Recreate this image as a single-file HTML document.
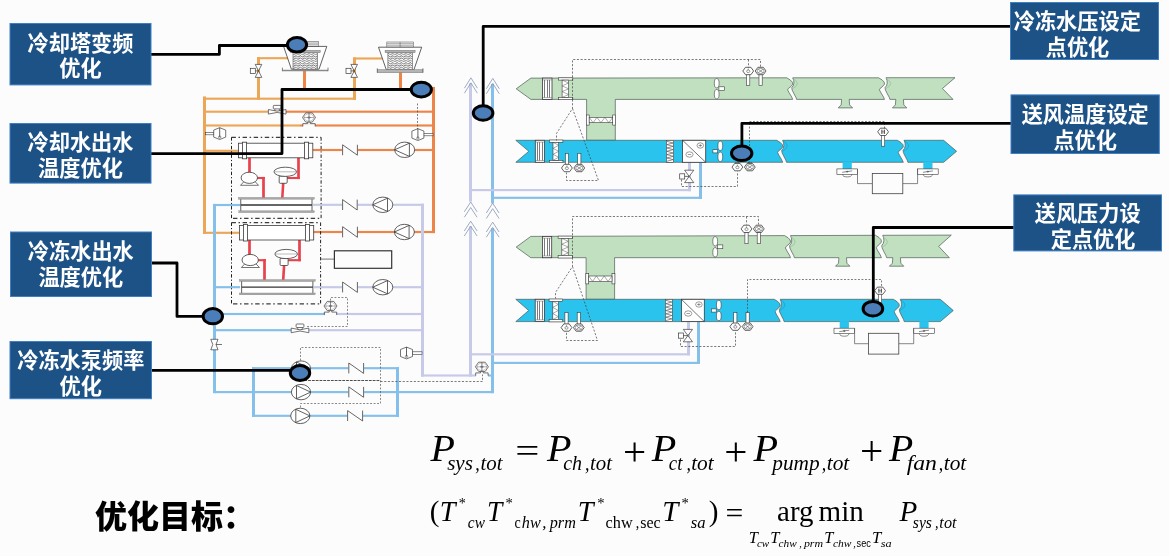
<!DOCTYPE html>
<html lang="zh-CN">
<head>
<meta charset="utf-8">
<title>优化目标</title>
<style>
html,body{margin:0;padding:0;background:#fcfcfc;}
body{width:1169px;height:556px;overflow:hidden;font-family:"Liberation Sans","Noto Sans CJK SC",sans-serif;}
svg{display:block;will-change:transform;}
</style>
</head>
<body>
<svg width="1169" height="556" viewBox="0 0 1169 556" role="img" aria-label="暖通空调系统优化示意图">
<defs>
<pattern id="wave" x="0" y="0" width="4.4" height="2.3" patternUnits="userSpaceOnUse"><rect width="4.4" height="2.3" fill="#fff"/><path d="M0 1.15 Q1.1 -0.2 2.2 1.15 T4.4 1.15" fill="none" stroke="#2a2a2a" stroke-width="0.75"/></pattern>
</defs>
<rect width="1169" height="556" fill="#fcfcfc"/>
<rect x="257.00" y="57.12" width="35.00" height="2.15" fill="#eca657"/>
<rect x="257.00" y="57.12" width="3.00" height="42.65" fill="#eca657"/>
<rect x="353.00" y="57.42" width="29.50" height="2.15" fill="#eca657"/>
<rect x="353.00" y="57.42" width="3.00" height="42.35" fill="#eca657"/>
<rect x="204.70" y="97.62" width="151.30" height="2.15" fill="#eca657"/>
<rect x="203.00" y="96.42" width="3.00" height="137.45" fill="#eca657"/>
<rect x="203.00" y="231.73" width="36.00" height="2.15" fill="#eca657"/>
<rect x="204.70" y="110.62" width="77.30" height="2.15" fill="#eca657"/>
<rect x="282.00" y="110.62" width="151.70" height="2.15" fill="#ee8548"/>
<rect x="204.70" y="124.42" width="95.30" height="2.15" fill="#eca657"/>
<rect x="300.00" y="124.42" width="133.70" height="2.15" fill="#ee8548"/>
<rect x="204.70" y="149.73" width="34.30" height="2.15" fill="#eca657"/>
<rect x="303.00" y="69.92" width="3.00" height="20.35" fill="#ee8548"/>
<rect x="399.00" y="70.92" width="3.00" height="19.35" fill="#ee8548"/>
<rect x="399.00" y="88.12" width="34.70" height="2.15" fill="#ee8548"/>
<rect x="432.00" y="86.92" width="3.00" height="146.15" fill="#ee8548"/>
<rect x="313.00" y="230.93" width="122.00" height="2.15" fill="#ee8548"/>
<rect x="313.00" y="148.93" width="120.70" height="2.15" fill="#ee8548"/>
<rect x="213.00" y="203.93" width="27.00" height="2.15" fill="#84c0ea"/>
<rect x="213.00" y="203.93" width="3.00" height="189.25" fill="#84c0ea"/>
<rect x="214.60" y="286.12" width="25.40" height="2.15" fill="#84c0ea"/>
<rect x="214.60" y="312.93" width="110.40" height="2.15" fill="#84c0ea"/>
<rect x="214.60" y="329.12" width="77.40" height="2.15" fill="#84c0ea"/>
<rect x="214.60" y="391.03" width="278.40" height="2.15" fill="#84c0ea"/>
<rect x="252.00" y="367.12" width="49.00" height="2.15" fill="#84c0ea"/>
<rect x="252.00" y="367.12" width="3.00" height="49.75" fill="#84c0ea"/>
<rect x="252.00" y="414.73" width="147.00" height="2.15" fill="#84c0ea"/>
<rect x="396.00" y="367.12" width="3.00" height="49.75" fill="#84c0ea"/>
<rect x="301.00" y="367.12" width="98.00" height="2.15" fill="#84c0ea"/>
<rect x="313.00" y="203.73" width="111.00" height="2.15" fill="#c6c9e8"/>
<rect x="421.00" y="203.73" width="3.00" height="172.85" fill="#c6c9e8"/>
<rect x="421.00" y="374.43" width="55.00" height="2.15" fill="#c6c9e8"/>
<rect x="314.00" y="286.12" width="108.90" height="2.15" fill="#c6c9e8"/>
<rect x="336.00" y="312.93" width="86.90" height="2.15" fill="#c6c9e8"/>
<rect x="308.00" y="329.12" width="114.90" height="2.15" fill="#c6c9e8"/>
<rect x="469.00" y="226.33" width="3.00" height="150.25" fill="#c6c9e8"/>
<rect x="469.00" y="83.33" width="3.00" height="118.35" fill="#c6c9e8"/>
<rect x="491.00" y="228.33" width="3.00" height="164.85" fill="#84c0ea"/>
<rect x="491.00" y="83.92" width="3.00" height="119.55" fill="#84c0ea"/>
<rect x="488.00" y="374.43" width="5.00" height="2.15" fill="#84c0ea"/>
<rect x="471.10" y="189.03" width="219.90" height="2.15" fill="#c6c9e8"/>
<rect x="688.00" y="160.93" width="3.00" height="30.25" fill="#c6c9e8"/>
<rect x="493.00" y="196.73" width="209.00" height="2.15" fill="#84c0ea"/>
<rect x="699.00" y="160.93" width="3.00" height="37.95" fill="#84c0ea"/>
<rect x="471.10" y="353.23" width="218.90" height="2.15" fill="#c6c9e8"/>
<rect x="687.00" y="319.93" width="3.00" height="35.45" fill="#c6c9e8"/>
<rect x="493.00" y="361.82" width="207.00" height="2.15" fill="#84c0ea"/>
<rect x="697.00" y="319.93" width="3.00" height="44.05" fill="#84c0ea"/>
<path d="M464.4 88.2 L470.9 77.8 L477.4 88.2" fill="none" stroke="#8697b4" stroke-width="0.8" />
<path d="M464.4 93.2 L470.9 82.8 L477.4 93.2" fill="none" stroke="#8697b4" stroke-width="0.8" />
<path d="M486.3 88.8 L492.8 78.4 L499.3 88.8" fill="none" stroke="#8697b4" stroke-width="0.8" />
<path d="M486.3 93.8 L492.8 83.4 L499.3 93.8" fill="none" stroke="#8697b4" stroke-width="0.8" />
<path d="M464.3 211.8 L470.7 202.0 L477.1 211.8" fill="none" stroke="#8697b4" stroke-width="0.8" />
<path d="M464.3 217.3 L470.7 207.5 L477.1 217.3" fill="none" stroke="#8697b4" stroke-width="0.8" />
<path d="M464.3 231.0 L470.7 221.2 L477.1 231.0" fill="none" stroke="#8697b4" stroke-width="0.8" />
<path d="M464.3 236.0 L470.7 226.2 L477.1 236.0" fill="none" stroke="#8697b4" stroke-width="0.8" />
<path d="M486.3 213.0 L492.7 203.2 L499.1 213.0" fill="none" stroke="#8697b4" stroke-width="0.8" />
<path d="M486.3 218.5 L492.7 208.7 L499.1 218.5" fill="none" stroke="#8697b4" stroke-width="0.8" />
<path d="M486.3 232.0 L492.7 222.2 L499.1 232.0" fill="none" stroke="#8697b4" stroke-width="0.8" />
<path d="M486.3 237.2 L492.7 227.4 L499.1 237.2" fill="none" stroke="#8697b4" stroke-width="0.8" />
<path d="M231.5 137.3 L321.1 137.3" fill="none" stroke="#3c3c3c" stroke-width="1.2" stroke-dasharray="4.4 2.6 1.5 2.6"/>
<path d="M233.0 218.4 L321.1 218.4" fill="none" stroke="#3c3c3c" stroke-width="1.2" stroke-dasharray="4.4 2.6 1.5 2.6"/>
<path d="M231.5 137.3 L231.5 218.4" fill="none" stroke="#222" stroke-width="1.0" stroke-dasharray="3.4 2 1.2 2"/>
<path d="M321.1 137.3 L321.1 218.4" fill="none" stroke="#222" stroke-width="1.0" stroke-dasharray="3.4 2 1.2 2"/>
<path d="M231.5 222.6 L320.6 222.6" fill="none" stroke="#3c3c3c" stroke-width="1.2" stroke-dasharray="4.4 2.6 1.5 2.6"/>
<path d="M233.0 303.8 L320.6 303.8" fill="none" stroke="#3c3c3c" stroke-width="1.2" stroke-dasharray="4.4 2.6 1.5 2.6"/>
<path d="M231.5 222.6 L231.5 303.8" fill="none" stroke="#222" stroke-width="1.0" stroke-dasharray="3.4 2 1.2 2"/>
<path d="M320.6 222.6 L320.6 303.8" fill="none" stroke="#222" stroke-width="1.0" stroke-dasharray="3.4 2 1.2 2"/>
<rect x="248.15" y="156.95" width="2.70" height="17.10" fill="#e8424c"/>
<rect x="257.00" y="176.95" width="7.85" height="2.10" fill="#e8424c"/>
<rect x="262.15" y="176.95" width="2.70" height="21.10" fill="#e8424c"/>
<rect x="297.15" y="156.95" width="2.70" height="22.10" fill="#e8424c"/>
<rect x="287.00" y="176.95" width="12.85" height="2.10" fill="#e8424c"/>
<path d="M283.2 183.0 L282.3 198.0" fill="none" stroke="#e8424c" stroke-width="2.6" />
<rect x="238.5" y="143.2" width="74.3" height="14.6" fill="#fff" stroke="#3a3a3a" stroke-width="0.8" />
<rect x="242.5" y="142.2" width="4.1" height="16.6" fill="#fff" stroke="#3a3a3a" stroke-width="0.8" />
<rect x="304.5" y="142.2" width="4.1" height="16.6" fill="#fff" stroke="#3a3a3a" stroke-width="0.8" />
<polygon points="240.5,185.3 244.5,181.0 254.5,181.0 258.5,185.3" fill="#fff" stroke="#3a3a3a" stroke-width="0.7" />
<ellipse cx="249.3" cy="177.8" rx="8.2" ry="5.6" fill="#fff" stroke="#3a3a3a" stroke-width="0.8"/>
<rect x="279.2" y="176.0" width="8.0" height="7.3" fill="#fff" stroke="#3a3a3a" stroke-width="0.8" rx="1"/>
<ellipse cx="285.3" cy="171.8" rx="11.3" ry="4.6" fill="#fff" stroke="#3a3a3a" stroke-width="0.8"/>
<path d="M274.5 171.8 L296.0 171.8" fill="none" stroke="#777" stroke-width="0.5" />
<rect x="240.8" y="198.5" width="71.2" height="13.0" fill="#fff" stroke="#3a3a3a" stroke-width="0.8" />
<rect x="238.5" y="197.4" width="75.8" height="1.8" fill="#a8a8a8" stroke="#888" stroke-width="0.4" />
<rect x="238.5" y="210.8" width="75.8" height="1.8" fill="#a8a8a8" stroke="#888" stroke-width="0.4" />
<path d="M240.8 205.0 L312.0 205.0" fill="none" stroke="#333" stroke-width="1.3" />
<rect x="248.15" y="239.15" width="2.70" height="17.10" fill="#e8424c"/>
<rect x="257.90" y="259.15" width="7.95" height="2.10" fill="#e8424c"/>
<rect x="263.15" y="259.15" width="2.70" height="21.10" fill="#e8424c"/>
<rect x="298.15" y="239.15" width="2.70" height="22.10" fill="#e8424c"/>
<rect x="287.90" y="259.15" width="12.95" height="2.10" fill="#e8424c"/>
<path d="M284.1 265.2 L283.2 280.2" fill="none" stroke="#e8424c" stroke-width="2.6" />
<rect x="239.4" y="225.4" width="74.3" height="14.6" fill="#fff" stroke="#3a3a3a" stroke-width="0.8" />
<rect x="243.4" y="224.4" width="4.1" height="16.6" fill="#fff" stroke="#3a3a3a" stroke-width="0.8" />
<rect x="305.4" y="224.4" width="4.1" height="16.6" fill="#fff" stroke="#3a3a3a" stroke-width="0.8" />
<polygon points="241.4,267.5 245.4,263.2 255.4,263.2 259.4,267.5" fill="#fff" stroke="#3a3a3a" stroke-width="0.7" />
<ellipse cx="250.2" cy="260.0" rx="8.2" ry="5.6" fill="#fff" stroke="#3a3a3a" stroke-width="0.8"/>
<rect x="280.1" y="258.2" width="8.0" height="7.3" fill="#fff" stroke="#3a3a3a" stroke-width="0.8" rx="1"/>
<ellipse cx="286.2" cy="254.0" rx="11.3" ry="4.6" fill="#fff" stroke="#3a3a3a" stroke-width="0.8"/>
<path d="M275.4 254.0 L296.9 254.0" fill="none" stroke="#777" stroke-width="0.5" />
<rect x="241.7" y="280.7" width="71.2" height="13.0" fill="#fff" stroke="#3a3a3a" stroke-width="0.8" />
<rect x="239.4" y="279.6" width="75.8" height="1.8" fill="#a8a8a8" stroke="#888" stroke-width="0.4" />
<rect x="239.4" y="293.0" width="75.8" height="1.8" fill="#a8a8a8" stroke="#888" stroke-width="0.4" />
<path d="M241.7 287.2 L312.9 287.2" fill="none" stroke="#333" stroke-width="1.3" />
<path d="M320.7 259.1 L334.4 259.1" fill="none" stroke="#555" stroke-width="0.8" />
<rect x="334.4" y="250.8" width="57.3" height="17.5" fill="#fcfcfc" stroke="#333" stroke-width="1.2" />
<rect x="342.1" y="148.0" width="15.8" height="4.0" fill="#fcfcfc" stroke="none" stroke-width="0" />
<path d="M342.6 155.2 L342.6 144.8 L357.4 155.2 L357.4 144.8" fill="none" stroke="#555" stroke-width="0.9" />
<rect x="342.1" y="202.8" width="15.6" height="4.0" fill="#fcfcfc" stroke="none" stroke-width="0" />
<path d="M342.6 210.0 L342.6 199.6 L357.2 210.0 L357.2 199.6" fill="none" stroke="#555" stroke-width="0.9" />
<rect x="342.1" y="230.0" width="15.8" height="4.0" fill="#fcfcfc" stroke="none" stroke-width="0" />
<path d="M342.6 237.3 L342.6 226.7 L357.4 237.3 L357.4 226.7" fill="none" stroke="#555" stroke-width="0.9" />
<rect x="342.1" y="285.2" width="15.8" height="4.0" fill="#fcfcfc" stroke="none" stroke-width="0" />
<path d="M342.6 292.4 L342.6 282.0 L357.4 292.4 L357.4 282.0" fill="none" stroke="#555" stroke-width="0.9" />
<ellipse cx="404.7" cy="149.8" rx="10.0" ry="7.7" fill="#fff" stroke="#3a3a3a" stroke-width="0.8"/>
<polygon points="394.7,149.8 409.4,143.2 409.4,156.4" fill="none" stroke="#3a3a3a" stroke-width="0.8" />
<ellipse cx="382.8" cy="204.8" rx="10.0" ry="7.7" fill="#fff" stroke="#3a3a3a" stroke-width="0.8"/>
<polygon points="372.8,204.8 387.5,198.2 387.5,211.4" fill="none" stroke="#3a3a3a" stroke-width="0.8" />
<ellipse cx="404.4" cy="232.0" rx="10.0" ry="7.7" fill="#fff" stroke="#3a3a3a" stroke-width="0.8"/>
<polygon points="394.4,232.0 409.1,225.4 409.1,238.6" fill="none" stroke="#3a3a3a" stroke-width="0.8" />
<ellipse cx="382.8" cy="287.2" rx="10.0" ry="7.7" fill="#fff" stroke="#3a3a3a" stroke-width="0.8"/>
<polygon points="372.8,287.2 387.5,280.6 387.5,293.8" fill="none" stroke="#3a3a3a" stroke-width="0.8" />
<rect x="348.3" y="366.2" width="15.8" height="4.0" fill="#fcfcfc" stroke="none" stroke-width="0" />
<path d="M348.8 373.4 L348.8 363.0 L363.6 373.4 L363.6 363.0" fill="none" stroke="#555" stroke-width="0.9" />
<rect x="348.3" y="390.1" width="15.8" height="4.0" fill="#fcfcfc" stroke="none" stroke-width="0" />
<path d="M348.8 397.3 L348.8 386.9 L363.6 397.3 L363.6 386.9" fill="none" stroke="#555" stroke-width="0.9" />
<rect x="347.1" y="413.8" width="16.0" height="4.0" fill="#fcfcfc" stroke="none" stroke-width="0" />
<path d="M347.6 421.0 L347.6 410.6 L362.6 421.0 L362.6 410.6" fill="none" stroke="#555" stroke-width="0.9" />
<ellipse cx="301.0" cy="368.6" rx="9.6" ry="7.7" fill="#fff" stroke="#3a3a3a" stroke-width="0.8"/>
<polygon points="310.6,368.6 296.5,362.0 296.5,375.2" fill="none" stroke="#3a3a3a" stroke-width="0.8" />
<ellipse cx="301.0" cy="392.1" rx="9.6" ry="7.7" fill="#fff" stroke="#3a3a3a" stroke-width="0.8"/>
<polygon points="310.6,392.1 296.5,385.5 296.5,398.7" fill="none" stroke="#3a3a3a" stroke-width="0.8" />
<ellipse cx="300.3" cy="415.9" rx="9.6" ry="7.7" fill="#fff" stroke="#3a3a3a" stroke-width="0.8"/>
<polygon points="309.9,415.9 295.8,409.3 295.8,422.5" fill="none" stroke="#3a3a3a" stroke-width="0.8" />
<path d="M417.5 103.5 L417.5 130.5" fill="none" stroke="#444" stroke-width="0.7" stroke-dasharray="1.9 1.6"/>
<path d="M330.5 300.5 L330.5 297.5 L347.5 297.5 L347.5 326.5 L305.5 326.5" fill="none" stroke="#555" stroke-width="0.7" stroke-dasharray="1.9 1.6"/>
<path d="M300.5 360.5 L300.5 347.5 L380.5 347.5 L380.5 403.5 L300.5 403.5 L300.5 408.5" fill="none" stroke="#555" stroke-width="0.7" stroke-dasharray="1.9 1.6"/>
<path d="M300.5 380.5 L380.5 380.5" fill="none" stroke="#3a3a3a" stroke-width="0.9" stroke-dasharray="2.8 1"/>
<path d="M380.5 381.5 L482.5 381.5 L482.5 374.5" fill="none" stroke="#444" stroke-width="0.7" stroke-dasharray="2.1 1.6"/>
<rect x="205.5" y="132.3" width="8.5" height="2.5" fill="#fff" stroke="#3a3a3a" stroke-width="0.6" />
<polygon points="213.7,130.1 219.7,127.7 225.7,130.1 225.7,137.1 219.7,139.5 213.7,137.1" fill="#fff" stroke="#3a3a3a" stroke-width="0.7" />
<path d="M219.7 127.7 L219.7 137.1" fill="none" stroke="#3a3a3a" stroke-width="0.8" />
<ellipse cx="219.7" cy="137.1" rx="1.2" ry="1.2" fill="none" stroke="#3a3a3a" stroke-width="0.5"/>
<rect x="423.6" y="133.3" width="9.4" height="2.5" fill="#fff" stroke="#3a3a3a" stroke-width="0.6" />
<polygon points="411.9,131.1 417.9,128.7 423.9,131.1 423.9,138.1 417.9,140.5 411.9,138.1" fill="#fff" stroke="#3a3a3a" stroke-width="0.7" />
<path d="M417.9 128.7 L417.9 138.1" fill="none" stroke="#3a3a3a" stroke-width="0.8" />
<ellipse cx="417.9" cy="138.1" rx="1.2" ry="1.2" fill="none" stroke="#3a3a3a" stroke-width="0.5"/>
<rect x="412.2" y="351.8" width="9.8" height="2.5" fill="#fff" stroke="#3a3a3a" stroke-width="0.6" />
<polygon points="400.5,349.5 406.5,347.1 412.5,349.5 412.5,356.5 406.5,358.9 400.5,356.5" fill="#fff" stroke="#3a3a3a" stroke-width="0.7" />
<path d="M406.5 347.1 L406.5 356.5" fill="none" stroke="#3a3a3a" stroke-width="0.8" />
<ellipse cx="406.5" cy="356.5" rx="1.2" ry="1.2" fill="none" stroke="#3a3a3a" stroke-width="0.5"/>
<rect x="268.4" y="110.2" width="17.6" height="3.2" fill="#fcfcfc" stroke="none" stroke-width="0" />
<polygon points="268.4,109.5 268.4,114.1 277.2,112.4 286.0,114.1 286.0,109.5 277.2,111.2" fill="#fff" stroke="#3a3a3a" stroke-width="0.7" />
<path d="M275.2 111.0 L274.6 108.7" fill="none" stroke="#3a3a3a" stroke-width="0.6" />
<path d="M279.2 111.0 L279.8 108.7" fill="none" stroke="#3a3a3a" stroke-width="0.6" />
<rect x="273.3" y="105.4" width="7.8" height="3.5" fill="#fff" stroke="#3a3a3a" stroke-width="0.7" rx="0.8"/>
<rect x="291.2" y="328.8" width="17.6" height="3.2" fill="#fcfcfc" stroke="none" stroke-width="0" />
<polygon points="291.2,328.1 291.2,332.7 300.0,331.0 308.8,332.7 308.8,328.1 300.0,329.8" fill="#fff" stroke="#3a3a3a" stroke-width="0.7" />
<path d="M298.0 329.6 L297.4 327.3" fill="none" stroke="#3a3a3a" stroke-width="0.6" />
<path d="M302.0 329.6 L302.6 327.3" fill="none" stroke="#3a3a3a" stroke-width="0.6" />
<rect x="296.1" y="324.0" width="7.8" height="3.5" fill="#fff" stroke="#3a3a3a" stroke-width="0.7" rx="0.8"/>
<rect x="302.8" y="124.2" width="12.4" height="3.0" fill="#fcfcfc" stroke="none" stroke-width="0" />
<polygon points="302.5,117.5 305.7,112.9 312.3,112.9 315.5,117.5 312.3,122.1 305.7,122.1" fill="#fff" stroke="#3a3a3a" stroke-width="0.7" />
<ellipse cx="309.0" cy="117.5" rx="4.7" ry="3.7" fill="none" stroke="#8a8a8a" stroke-width="0.45"/>
<path d="M303.4 117.5 L314.6 117.5" fill="none" stroke="#666" stroke-width="0.5" />
<path d="M309.0 112.9 L309.0 122.1" fill="none" stroke="#3a3a3a" stroke-width="0.6" />
<ellipse cx="309.0" cy="117.5" rx="1.6" ry="0.8" fill="#777" stroke="#555" stroke-width="0.3"/>
<path d="M302.8 126.4 L302.8 123.6 L307.7 123.6 L307.7 122.1" fill="none" stroke="#3a3a3a" stroke-width="0.7" />
<path d="M315.2 126.4 L315.2 123.6 L310.3 123.6 L310.3 122.1" fill="none" stroke="#3a3a3a" stroke-width="0.7" />
<polygon points="324.0,306.0 327.2,301.4 333.8,301.4 337.0,306.0 333.8,310.6 327.2,310.6" fill="#fff" stroke="#3a3a3a" stroke-width="0.7" />
<ellipse cx="330.5" cy="306.0" rx="4.7" ry="3.7" fill="none" stroke="#8a8a8a" stroke-width="0.45"/>
<path d="M324.9 306.0 L336.1 306.0" fill="none" stroke="#666" stroke-width="0.5" />
<path d="M330.5 301.4 L330.5 310.6" fill="none" stroke="#3a3a3a" stroke-width="0.6" />
<ellipse cx="330.5" cy="306.0" rx="1.6" ry="0.8" fill="#777" stroke="#555" stroke-width="0.3"/>
<path d="M324.3 314.9 L324.3 312.1 L329.2 312.1 L329.2 310.6" fill="none" stroke="#3a3a3a" stroke-width="0.7" />
<path d="M336.7 314.9 L336.7 312.1 L331.8 312.1 L331.8 310.6" fill="none" stroke="#3a3a3a" stroke-width="0.7" />
<polygon points="475.4,366.8 478.6,362.2 485.2,362.2 488.4,366.8 485.2,371.4 478.6,371.4" fill="#fff" stroke="#3a3a3a" stroke-width="0.7" />
<ellipse cx="481.9" cy="366.8" rx="4.7" ry="3.7" fill="none" stroke="#8a8a8a" stroke-width="0.45"/>
<path d="M476.3 366.8 L487.5 366.8" fill="none" stroke="#666" stroke-width="0.5" />
<path d="M481.9 362.2 L481.9 371.4" fill="none" stroke="#3a3a3a" stroke-width="0.6" />
<ellipse cx="481.9" cy="366.8" rx="1.6" ry="0.8" fill="#777" stroke="#555" stroke-width="0.3"/>
<path d="M475.7 375.7 L475.7 372.9 L480.6 372.9 L480.6 371.4" fill="none" stroke="#3a3a3a" stroke-width="0.7" />
<path d="M488.1 375.7 L488.1 372.9 L483.2 372.9 L483.2 371.4" fill="none" stroke="#3a3a3a" stroke-width="0.7" />
<polygon points="210.8,339.3 218.0,339.3 216.0,344.5 218.0,349.8 210.8,349.8 212.8,344.5" fill="#fff" stroke="#3a3a3a" stroke-width="0.7" />
<path d="M216.0 344.5 L222.0 344.5" fill="none" stroke="#3a3a3a" stroke-width="0.7" />
<polygon points="255.2,64.4 261.8,64.4 258.5,70.9" fill="#fff" stroke="#3a3a3a" stroke-width="0.7" />
<polygon points="255.2,77.4 261.8,77.4 258.5,70.9" fill="#fff" stroke="#3a3a3a" stroke-width="0.7" />
<path d="M258.5 70.9 L254.7 70.9" fill="none" stroke="#3a3a3a" stroke-width="0.7" />
<rect x="250.3" y="68.3" width="5.0" height="5.2" fill="#fff" stroke="#3a3a3a" stroke-width="0.7" />
<polygon points="350.9,64.4 357.5,64.4 354.2,70.9" fill="#fff" stroke="#3a3a3a" stroke-width="0.7" />
<polygon points="350.9,77.4 357.5,77.4 354.2,70.9" fill="#fff" stroke="#3a3a3a" stroke-width="0.7" />
<path d="M354.2 70.9 L350.4 70.9" fill="none" stroke="#3a3a3a" stroke-width="0.7" />
<rect x="346.0" y="68.3" width="5.0" height="5.2" fill="#fff" stroke="#3a3a3a" stroke-width="0.7" />
<rect x="291.9" y="41.4" width="26.6" height="5.0" fill="#f2f2f2" stroke="#666" stroke-width="0.6" />
<path d="M291.9 43.1 L318.5 43.1" fill="none" stroke="#888" stroke-width="0.7" />
<path d="M291.9 44.7 L318.5 44.7" fill="none" stroke="#aaa" stroke-width="0.9" />
<path d="M305.2 41.4 L305.2 46.4" fill="none" stroke="#666" stroke-width="0.6" />
<polygon points="283.6,46.4 326.8,46.4 319.0,69.2 291.4,69.2" fill="#fff" stroke="#3a3a3a" stroke-width="0.8" />
<rect x="293.0" y="52.6" width="24.4" height="16.6" fill="url(#wave)" stroke="#555" stroke-width="0.6" />
<rect x="290.2" y="50.3" width="30.0" height="2.4" fill="#b0b0b0" stroke="#777" stroke-width="0.5" />
<path d="M282.4 70.4 L328.0 70.4" fill="none" stroke="#8a8a8a" stroke-width="1.5" />
<path d="M282.4 67.6 L282.4 71.2" fill="none" stroke="#666" stroke-width="0.8" />
<path d="M328.0 67.6 L328.0 71.2" fill="none" stroke="#666" stroke-width="0.8" />
<rect x="386.8" y="42.0" width="26.6" height="5.2" fill="#f2f2f2" stroke="#666" stroke-width="0.6" />
<path d="M386.8 43.7 L413.4 43.7" fill="none" stroke="#888" stroke-width="0.7" />
<path d="M386.8 45.3 L413.4 45.3" fill="none" stroke="#aaa" stroke-width="0.9" />
<path d="M400.1 42.0 L400.1 47.2" fill="none" stroke="#666" stroke-width="0.6" />
<polygon points="378.5,47.2 421.7,47.2 413.9,69.8 386.3,69.8" fill="#fff" stroke="#3a3a3a" stroke-width="0.8" />
<rect x="387.9" y="52.6" width="24.4" height="17.2" fill="url(#wave)" stroke="#555" stroke-width="0.6" />
<rect x="385.1" y="50.3" width="30.0" height="2.4" fill="#b0b0b0" stroke="#777" stroke-width="0.5" />
<rect x="377.3" y="69.7" width="45.6" height="3.0" fill="#b4b4b4" stroke="#777" stroke-width="0.5" />
<path d="M377.3 68.3 L377.3 72.8" fill="none" stroke="#666" stroke-width="0.8" />
<path d="M422.9 68.3 L422.9 72.8" fill="none" stroke="#666" stroke-width="0.8" />
<polygon points="516.2,88.8 530.9,78.1 786.8,77.8 790.3,80.0 792.4,82.2 792.7,84.3 791.1,86.3 788.2,88.6 787.6,89.9 789.2,92.9 791.6,96.8 792.7,99.4 615.3,99.4 615.3,140.3 586.6,140.3 586.6,99.4 530.9,99.4" fill="#c0e0c0" stroke="#4d5a55" stroke-width="0.7" />
<polygon points="792.7,77.8 878.6,77.8 882.1,79.9 884.2,82.1 884.5,84.2 882.9,86.2 880.0,88.6 879.4,89.9 881.0,92.9 883.4,96.8 884.5,99.4 849.2,99.4 849.6,104.9 852.6,107.9 838.2,107.9 841.2,104.9 841.6,99.4 796.6,99.4 795.9,97.2 794.1,94.0 792.1,89.9 791.8,87.5 793.2,85.8 793.9,83.2 793.7,80.4" fill="#c0e0c0" stroke="#4d5a55" stroke-width="0.7" />
<polygon points="886.0,77.7 955.0,77.7 942.4,88.5 953.0,99.4 903.4,99.4 903.8,104.9 906.8,107.9 892.4,107.9 895.4,104.9 895.8,99.4 889.9,99.4 889.2,97.2 887.4,94.0 885.4,89.9 885.1,87.5 886.5,85.8 887.2,83.2 887.0,80.3" fill="#c0e0c0" stroke="#4d5a55" stroke-width="0.7" />
<polygon points="515.8,140.3 776.8,140.3 780.3,142.5 782.4,144.7 782.7,146.9 781.1,148.9 778.2,151.3 777.6,152.6 779.2,155.7 781.6,159.7 782.7,162.3 515.8,162.3 528.8,151.3" fill="#29c3ee" stroke="#4d5a55" stroke-width="0.7" />
<polygon points="782.6,140.3 897.4,140.3 900.9,142.5 903.0,144.7 903.3,146.9 901.7,148.9 898.8,151.3 898.2,152.6 899.8,155.7 902.2,159.7 903.3,162.3 786.5,162.3 785.8,160.1 784.0,156.8 782.0,152.6 781.7,150.2 783.1,148.4 783.8,145.8 783.6,142.9" fill="#29c3ee" stroke="#4d5a55" stroke-width="0.7" />
<polygon points="904.0,140.3 943.6,140.3 956.6,151.3 943.6,162.3 907.9,162.3 907.2,160.1 905.4,156.8 903.4,152.6 903.1,150.2 904.5,148.4 905.2,145.8 905.0,142.9" fill="#29c3ee" stroke="#4d5a55" stroke-width="0.7" />
<path d="M793.0 78.5 Q802.2 83.9 792.3 88.8" fill="none" stroke="#93bf9a" stroke-width="0.7"/>
<path d="M886.3 78.5 Q895.5 83.9 885.6 88.8" fill="none" stroke="#93bf9a" stroke-width="0.7"/>
<path d="M782.9 140.7 Q792.1 146.2 782.2 151.3" fill="none" stroke="#1c9cc9" stroke-width="0.7"/>
<path d="M904.3 140.7 Q913.5 146.2 903.6 151.3" fill="none" stroke="#1c9cc9" stroke-width="0.7"/>
<rect x="542.6" y="78.1" width="9.4" height="21.3" fill="#fff" stroke="#3a3a3a" stroke-width="0.8" />
<path d="M544.5 79.9 L544.5 97.6" fill="none" stroke="#444" stroke-width="0.7" />
<path d="M547.5 79.9 L547.5 97.6" fill="none" stroke="#444" stroke-width="0.7" />
<path d="M549.5 79.9 L549.5 97.6" fill="none" stroke="#444" stroke-width="0.7" />
<path d="M542.6 79.9 L552.0 79.9" fill="none" stroke="#666" stroke-width="0.5" />
<path d="M542.6 97.6 L552.0 97.6" fill="none" stroke="#666" stroke-width="0.5" />
<rect x="558.4" y="77.8" width="14.4" height="2.3" fill="#fff" stroke="#3a3a3a" stroke-width="0.6" />
<rect x="558.4" y="97.4" width="14.4" height="2.3" fill="#fff" stroke="#3a3a3a" stroke-width="0.6" />
<rect x="562.1" y="80.1" width="6.5" height="17.3" fill="#fff" stroke="#3a3a3a" stroke-width="0.6" />
<path d="M562.1 80.1 L568.6 83.0 L562.1 85.9" fill="none" stroke="#555" stroke-width="0.5" />
<path d="M562.1 85.9 L568.6 88.8 L562.1 91.6" fill="none" stroke="#555" stroke-width="0.5" />
<path d="M562.1 91.6 L568.6 94.5 L562.1 97.4" fill="none" stroke="#555" stroke-width="0.5" />
<rect x="586.3" y="115.0" width="2.9" height="10.1" fill="#fff" stroke="#3a3a3a" stroke-width="0.6" />
<rect x="612.7" y="115.0" width="2.9" height="10.1" fill="#fff" stroke="#3a3a3a" stroke-width="0.6" />
<rect x="589.2" y="117.4" width="23.5" height="5.3" fill="#fff" stroke="#3a3a3a" stroke-width="0.6" />
<path d="M589.2 117.4 L593.1 122.7 L597.0 117.4" fill="none" stroke="#555" stroke-width="0.5" />
<path d="M597.0 117.4 L600.9 122.7 L604.9 117.4" fill="none" stroke="#555" stroke-width="0.5" />
<path d="M604.9 117.4 L608.8 122.7 L612.7 117.4" fill="none" stroke="#555" stroke-width="0.5" />
<ellipse cx="716.7" cy="83.2" rx="2.4" ry="4.7" fill="#fff" stroke="#3a3a3a" stroke-width="0.6"/>
<ellipse cx="716.7" cy="94.2" rx="2.4" ry="4.7" fill="#fff" stroke="#3a3a3a" stroke-width="0.6"/>
<rect x="718.9" y="86.8" width="5.4" height="3.8" fill="#fff" stroke="#3a3a3a" stroke-width="0.6" />
<rect x="535.3" y="140.3" width="9.3" height="22.0" fill="#fff" stroke="#3a3a3a" stroke-width="0.8" />
<path d="M537.5 142.1 L537.5 160.5" fill="none" stroke="#444" stroke-width="0.7" />
<path d="M539.5 142.1 L539.5 160.5" fill="none" stroke="#444" stroke-width="0.7" />
<path d="M542.5 142.1 L542.5 160.5" fill="none" stroke="#444" stroke-width="0.7" />
<path d="M535.3 142.1 L544.6 142.1" fill="none" stroke="#666" stroke-width="0.5" />
<path d="M535.3 160.5 L544.6 160.5" fill="none" stroke="#666" stroke-width="0.5" />
<rect x="549.3" y="140.0" width="13.6" height="2.3" fill="#fff" stroke="#3a3a3a" stroke-width="0.6" />
<rect x="549.3" y="160.3" width="13.6" height="2.3" fill="#fff" stroke="#3a3a3a" stroke-width="0.6" />
<rect x="553.0" y="142.3" width="5.7" height="18.0" fill="#fff" stroke="#3a3a3a" stroke-width="0.6" />
<path d="M553.0 142.3 L558.7 145.3 L553.0 148.3" fill="none" stroke="#555" stroke-width="0.5" />
<path d="M553.0 148.3 L558.7 151.3 L553.0 154.3" fill="none" stroke="#555" stroke-width="0.5" />
<path d="M553.0 154.3 L558.7 157.3 L553.0 160.3" fill="none" stroke="#555" stroke-width="0.5" />
<rect x="666.4" y="140.3" width="7.2" height="22.0" fill="#fff" stroke="#3a3a3a" stroke-width="0.6" />
<path d="M666.9 141.3 L673.1 143.0 L666.9 144.6 L673.1 146.3 L666.9 148.0 L673.1 149.6 L666.9 151.3 L673.1 153.0 L666.9 154.6 L673.1 156.3 L666.9 158.0 L673.1 159.6 L666.9 161.3" fill="none" stroke="#444" stroke-width="0.6" />
<rect x="682.6" y="140.3" width="23.1" height="22.0" fill="#fff" stroke="#3a3a3a" stroke-width="0.8" />
<path d="M682.6 140.3 L705.7 162.3" fill="none" stroke="#3a3a3a" stroke-width="0.7" />
<ellipse cx="700.3" cy="145.5" rx="3.3" ry="2.7" fill="none" stroke="#3a3a3a" stroke-width="0.5"/>
<path d="M698.6 145.5 L702.0 145.5" fill="none" stroke="#3a3a3a" stroke-width="0.5" />
<path d="M700.3 144.1 L700.3 146.9" fill="none" stroke="#3a3a3a" stroke-width="0.5" />
<ellipse cx="689.5" cy="154.5" rx="3.6" ry="2.7" fill="none" stroke="#3a3a3a" stroke-width="0.5"/>
<path d="M687.8 154.5 L691.2 154.5" fill="none" stroke="#3a3a3a" stroke-width="0.5" />
<ellipse cx="720.3" cy="145.8" rx="2.4" ry="4.7" fill="#fff" stroke="#3a3a3a" stroke-width="0.6"/>
<ellipse cx="720.3" cy="156.8" rx="2.4" ry="4.7" fill="#fff" stroke="#3a3a3a" stroke-width="0.6"/>
<rect x="712.9" y="149.7" width="4.8" height="3.2" fill="#fff" stroke="#3a3a3a" stroke-width="0.6" />
<rect x="842.6" y="161.8" width="9.2" height="7.5" fill="#29c3ee" stroke="none" stroke-width="0" />
<ellipse cx="847.2" cy="174.3" rx="4.6" ry="2.6" fill="#fff" stroke="#3a3a3a" stroke-width="0.6"/>
<rect x="836.9" y="168.9" width="20.6" height="5.4" fill="#fff" stroke="#3a3a3a" stroke-width="0.6" />
<path d="M842.2 172.3 L852.2 170.9" fill="none" stroke="#3a3a3a" stroke-width="0.6" />
<ellipse cx="847.2" cy="171.6" rx="0.9" ry="0.7" fill="#666" stroke="#3a3a3a" stroke-width="0.3"/>
<rect x="923.3" y="161.8" width="9.2" height="7.5" fill="#29c3ee" stroke="none" stroke-width="0" />
<ellipse cx="927.9" cy="174.3" rx="4.6" ry="2.6" fill="#fff" stroke="#3a3a3a" stroke-width="0.6"/>
<rect x="917.6" y="168.9" width="20.6" height="5.4" fill="#fff" stroke="#3a3a3a" stroke-width="0.6" />
<path d="M922.9 172.3 L932.9 170.9" fill="none" stroke="#3a3a3a" stroke-width="0.6" />
<ellipse cx="927.9" cy="171.6" rx="0.9" ry="0.7" fill="#666" stroke="#3a3a3a" stroke-width="0.3"/>
<path d="M857.5 168.9 L857.5 183.6 L872.3 183.6" fill="none" stroke="#555" stroke-width="0.7" />
<path d="M902.8 183.6 L917.6 183.6 L917.6 168.9" fill="none" stroke="#555" stroke-width="0.7" />
<rect x="872.3" y="173.5" width="30.5" height="20.2" fill="#fcfcfc" stroke="#444" stroke-width="0.8" />
<polygon points="516.2,247.1 530.8,236.4 784.6,235.6 788.1,237.8 790.2,240.0 790.5,242.2 788.9,244.2 786.0,246.6 785.4,248.0 787.0,251.1 789.4,255.0 790.5,257.7 614.6,257.7 614.6,299.3 586.1,299.3 586.1,257.7 530.8,257.7" fill="#c0e0c0" stroke="#4d5a55" stroke-width="0.7" />
<polygon points="790.5,235.6 875.5,235.3 879.0,237.5 881.1,239.8 881.4,242.0 879.8,244.0 876.9,246.5 876.3,247.8 877.9,251.0 880.3,255.0 881.4,257.7 846.5,257.7 846.9,263.2 849.9,266.2 835.5,266.2 838.5,263.2 838.9,257.7 794.4,257.7 793.7,255.5 791.9,252.2 789.9,248.0 789.6,245.5 791.0,243.8 791.7,241.1 791.5,238.2" fill="#c0e0c0" stroke="#4d5a55" stroke-width="0.7" />
<polygon points="882.7,235.3 951.3,235.1 938.7,246.4 949.3,257.7 900.4,257.7 900.8,263.2 903.8,266.2 889.4,266.2 892.4,263.2 892.8,257.7 886.6,257.7 885.9,255.5 884.1,252.1 882.1,247.8 881.8,245.4 883.2,243.6 883.9,240.9 883.7,238.0" fill="#c0e0c0" stroke="#4d5a55" stroke-width="0.7" />
<polygon points="515.8,299.3 774.3,299.3 777.8,301.5 779.9,303.8 780.2,306.0 778.6,308.0 775.7,310.5 775.1,311.8 776.7,314.9 779.1,318.9 780.2,321.6 515.8,321.6 528.7,310.5" fill="#29c3ee" stroke="#4d5a55" stroke-width="0.7" />
<polygon points="780.2,299.3 893.4,299.3 896.9,301.5 899.0,303.8 899.3,306.0 897.7,308.0 894.8,310.5 894.2,311.8 895.8,314.9 898.2,318.9 899.3,321.6 784.1,321.6 783.4,319.4 781.6,316.0 779.6,311.8 779.3,309.3 780.7,307.6 781.4,304.9 781.2,302.0" fill="#29c3ee" stroke="#4d5a55" stroke-width="0.7" />
<polygon points="900.3,299.3 940.3,299.3 953.3,310.5 940.3,321.6 904.2,321.6 903.5,319.4 901.7,316.0 899.7,311.8 899.4,309.3 900.8,307.6 901.5,304.9 901.3,302.0" fill="#29c3ee" stroke="#4d5a55" stroke-width="0.7" />
<path d="M790.8 236.8 Q800.0 242.2 790.1 247.1" fill="none" stroke="#93bf9a" stroke-width="0.7"/>
<path d="M883.0 236.8 Q892.2 242.2 882.3 247.1" fill="none" stroke="#93bf9a" stroke-width="0.7"/>
<path d="M780.5 299.7 Q789.7 305.3 779.8 310.5" fill="none" stroke="#1c9cc9" stroke-width="0.7"/>
<path d="M900.6 299.7 Q909.8 305.3 899.9 310.5" fill="none" stroke="#1c9cc9" stroke-width="0.7"/>
<rect x="542.4" y="236.4" width="9.3" height="21.3" fill="#fff" stroke="#3a3a3a" stroke-width="0.8" />
<path d="M544.5 238.2 L544.5 255.9" fill="none" stroke="#444" stroke-width="0.7" />
<path d="M547.5 238.2 L547.5 255.9" fill="none" stroke="#444" stroke-width="0.7" />
<path d="M549.5 238.2 L549.5 255.9" fill="none" stroke="#444" stroke-width="0.7" />
<path d="M542.4 238.2 L551.7 238.2" fill="none" stroke="#666" stroke-width="0.5" />
<path d="M542.4 255.9 L551.7 255.9" fill="none" stroke="#666" stroke-width="0.5" />
<rect x="558.1" y="236.1" width="14.3" height="2.3" fill="#fff" stroke="#3a3a3a" stroke-width="0.6" />
<rect x="558.1" y="255.7" width="14.3" height="2.3" fill="#fff" stroke="#3a3a3a" stroke-width="0.6" />
<rect x="561.8" y="238.4" width="6.4" height="17.3" fill="#fff" stroke="#3a3a3a" stroke-width="0.6" />
<path d="M561.8 238.4 L568.2 241.3 L561.8 244.2" fill="none" stroke="#555" stroke-width="0.5" />
<path d="M561.8 244.2 L568.2 247.0 L561.8 249.9" fill="none" stroke="#555" stroke-width="0.5" />
<path d="M561.8 249.9 L568.2 252.8 L561.8 255.7" fill="none" stroke="#555" stroke-width="0.5" />
<rect x="585.8" y="273.6" width="2.9" height="10.3" fill="#fff" stroke="#3a3a3a" stroke-width="0.6" />
<rect x="612.0" y="273.6" width="2.9" height="10.3" fill="#fff" stroke="#3a3a3a" stroke-width="0.6" />
<rect x="588.7" y="276.0" width="23.3" height="5.5" fill="#fff" stroke="#3a3a3a" stroke-width="0.6" />
<path d="M588.7 276.0 L592.6 281.4 L596.4 276.0" fill="none" stroke="#555" stroke-width="0.5" />
<path d="M596.4 276.0 L600.3 281.4 L604.2 276.0" fill="none" stroke="#555" stroke-width="0.5" />
<path d="M604.2 276.0 L608.1 281.4 L612.0 276.0" fill="none" stroke="#555" stroke-width="0.5" />
<ellipse cx="715.2" cy="241.3" rx="2.4" ry="4.7" fill="#fff" stroke="#3a3a3a" stroke-width="0.6"/>
<ellipse cx="715.2" cy="252.3" rx="2.4" ry="4.7" fill="#fff" stroke="#3a3a3a" stroke-width="0.6"/>
<rect x="717.4" y="244.9" width="5.4" height="3.8" fill="#fff" stroke="#3a3a3a" stroke-width="0.6" />
<rect x="535.2" y="299.3" width="9.2" height="22.3" fill="#fff" stroke="#3a3a3a" stroke-width="0.8" />
<path d="M537.5 301.1 L537.5 319.8" fill="none" stroke="#444" stroke-width="0.7" />
<path d="M539.5 301.1 L539.5 319.8" fill="none" stroke="#444" stroke-width="0.7" />
<path d="M542.5 301.1 L542.5 319.8" fill="none" stroke="#444" stroke-width="0.7" />
<path d="M535.2 301.1 L544.4 301.1" fill="none" stroke="#666" stroke-width="0.5" />
<path d="M535.2 319.8 L544.4 319.8" fill="none" stroke="#666" stroke-width="0.5" />
<rect x="549.1" y="299.0" width="13.5" height="2.3" fill="#fff" stroke="#3a3a3a" stroke-width="0.6" />
<rect x="549.1" y="319.6" width="13.5" height="2.3" fill="#fff" stroke="#3a3a3a" stroke-width="0.6" />
<rect x="552.8" y="301.3" width="5.6" height="18.3" fill="#fff" stroke="#3a3a3a" stroke-width="0.6" />
<path d="M552.8 301.3 L558.3 304.4 L552.8 307.4" fill="none" stroke="#555" stroke-width="0.5" />
<path d="M552.8 307.4 L558.3 310.5 L552.8 313.5" fill="none" stroke="#555" stroke-width="0.5" />
<path d="M552.8 313.5 L558.3 316.6 L552.8 319.6" fill="none" stroke="#555" stroke-width="0.5" />
<rect x="665.3" y="299.3" width="7.1" height="22.3" fill="#fff" stroke="#3a3a3a" stroke-width="0.6" />
<path d="M665.8 300.3 L671.9 302.0 L665.8 303.7 L671.9 305.4 L665.8 307.1 L671.9 308.8 L665.8 310.5 L671.9 312.1 L665.8 313.8 L671.9 315.5 L665.8 317.2 L671.9 318.9 L665.8 320.6" fill="none" stroke="#444" stroke-width="0.6" />
<rect x="681.4" y="299.3" width="22.9" height="22.3" fill="#fff" stroke="#3a3a3a" stroke-width="0.8" />
<path d="M681.4 299.3 L704.3 321.6" fill="none" stroke="#3a3a3a" stroke-width="0.7" />
<ellipse cx="698.9" cy="304.5" rx="3.3" ry="2.7" fill="none" stroke="#3a3a3a" stroke-width="0.5"/>
<path d="M697.2 304.5 L700.6 304.5" fill="none" stroke="#3a3a3a" stroke-width="0.5" />
<path d="M698.9 303.1 L698.9 305.9" fill="none" stroke="#3a3a3a" stroke-width="0.5" />
<ellipse cx="688.2" cy="313.5" rx="3.6" ry="2.7" fill="none" stroke="#3a3a3a" stroke-width="0.5"/>
<path d="M686.5 313.5 L689.9 313.5" fill="none" stroke="#3a3a3a" stroke-width="0.5" />
<ellipse cx="718.8" cy="305.0" rx="2.4" ry="4.7" fill="#fff" stroke="#3a3a3a" stroke-width="0.6"/>
<ellipse cx="718.8" cy="316.0" rx="2.4" ry="4.7" fill="#fff" stroke="#3a3a3a" stroke-width="0.6"/>
<rect x="711.4" y="308.9" width="4.8" height="3.2" fill="#fff" stroke="#3a3a3a" stroke-width="0.6" />
<rect x="839.7" y="321.1" width="9.2" height="7.5" fill="#29c3ee" stroke="none" stroke-width="0" />
<ellipse cx="844.3" cy="333.6" rx="4.6" ry="2.6" fill="#fff" stroke="#3a3a3a" stroke-width="0.6"/>
<rect x="834.0" y="328.2" width="20.6" height="5.4" fill="#fff" stroke="#3a3a3a" stroke-width="0.6" />
<path d="M839.3 331.6 L849.3 330.2" fill="none" stroke="#3a3a3a" stroke-width="0.6" />
<ellipse cx="844.3" cy="330.9" rx="0.9" ry="0.7" fill="#666" stroke="#3a3a3a" stroke-width="0.3"/>
<rect x="919.4" y="321.1" width="9.2" height="7.5" fill="#29c3ee" stroke="none" stroke-width="0" />
<ellipse cx="924.0" cy="333.6" rx="4.6" ry="2.6" fill="#fff" stroke="#3a3a3a" stroke-width="0.6"/>
<rect x="913.7" y="328.2" width="20.6" height="5.4" fill="#fff" stroke="#3a3a3a" stroke-width="0.6" />
<path d="M919.0 331.6 L929.0 330.2" fill="none" stroke="#3a3a3a" stroke-width="0.6" />
<ellipse cx="924.0" cy="330.9" rx="0.9" ry="0.7" fill="#666" stroke="#3a3a3a" stroke-width="0.3"/>
<path d="M854.6 328.2 L854.6 343.7 L868.4 343.7" fill="none" stroke="#555" stroke-width="0.7" />
<path d="M898.8 343.7 L913.7 343.7 L913.7 328.2" fill="none" stroke="#555" stroke-width="0.7" />
<rect x="868.4" y="333.3" width="30.4" height="20.8" fill="#fcfcfc" stroke="#444" stroke-width="0.8" />
<rect x="746.6" y="74.0" width="3.2" height="11.4" fill="#fff" stroke="#3a3a3a" stroke-width="0.6" />
<polygon points="742.8,71.0 745.5,67.3 750.9,67.3 753.6,71.0 750.9,74.7 745.5,74.7" fill="#fff" stroke="#3a3a3a" stroke-width="0.8" />
<ellipse cx="748.2" cy="71.3" rx="1.6" ry="1.3" fill="none" stroke="#3a3a3a" stroke-width="0.5"/>
<path d="M748.2 68.5 L748.2 70.0" fill="none" stroke="#3a3a3a" stroke-width="0.5" />
<rect x="759.0" y="74.0" width="3.2" height="11.4" fill="#fff" stroke="#3a3a3a" stroke-width="0.6" />
<polygon points="755.2,71.0 757.9,67.3 763.3,67.3 766.0,71.0 763.3,74.7 757.9,74.7" fill="#fff" stroke="#3a3a3a" stroke-width="0.8" />
<ellipse cx="760.6" cy="71.0" rx="3.6" ry="2.6" fill="none" stroke="#3a3a3a" stroke-width="0.5"/>
<path d="M758.3 69.3 L762.9 72.7" fill="none" stroke="#3a3a3a" stroke-width="0.5" />
<path d="M758.3 72.7 L762.9 69.3" fill="none" stroke="#3a3a3a" stroke-width="0.5" />
<rect x="565.3" y="153.3" width="3.2" height="11.7" fill="#fff" stroke="#3a3a3a" stroke-width="0.6" />
<polygon points="561.5,168.0 564.2,164.3 569.6,164.3 572.3,168.0 569.6,171.7 564.2,171.7" fill="#fff" stroke="#3a3a3a" stroke-width="0.8" />
<ellipse cx="566.9" cy="168.3" rx="1.6" ry="1.3" fill="none" stroke="#3a3a3a" stroke-width="0.5"/>
<path d="M566.9 165.5 L566.9 167.0" fill="none" stroke="#3a3a3a" stroke-width="0.5" />
<rect x="577.7" y="153.3" width="3.2" height="11.7" fill="#fff" stroke="#3a3a3a" stroke-width="0.6" />
<polygon points="573.9,168.0 576.6,164.3 582.0,164.3 584.7,168.0 582.0,171.7 576.6,171.7" fill="#fff" stroke="#3a3a3a" stroke-width="0.8" />
<ellipse cx="579.3" cy="168.0" rx="3.6" ry="2.6" fill="none" stroke="#3a3a3a" stroke-width="0.5"/>
<path d="M577.0 166.3 L581.6 169.7" fill="none" stroke="#3a3a3a" stroke-width="0.5" />
<path d="M577.0 169.7 L581.6 166.3" fill="none" stroke="#3a3a3a" stroke-width="0.5" />
<rect x="735.8" y="162.5" width="3.2" height="1.6" fill="#fff" stroke="#3a3a3a" stroke-width="0.6" />
<polygon points="732.0,167.1 734.7,163.4 740.1,163.4 742.8,167.1 740.1,170.8 734.7,170.8" fill="#fff" stroke="#3a3a3a" stroke-width="0.8" />
<ellipse cx="737.4" cy="167.4" rx="1.6" ry="1.3" fill="none" stroke="#3a3a3a" stroke-width="0.5"/>
<path d="M737.4 164.6 L737.4 166.1" fill="none" stroke="#3a3a3a" stroke-width="0.5" />
<rect x="748.2" y="162.5" width="3.2" height="1.6" fill="#fff" stroke="#3a3a3a" stroke-width="0.6" />
<polygon points="744.4,167.1 747.1,163.4 752.5,163.4 755.2,167.1 752.5,170.8 747.1,170.8" fill="#fff" stroke="#3a3a3a" stroke-width="0.8" />
<ellipse cx="749.8" cy="167.1" rx="3.6" ry="2.6" fill="none" stroke="#3a3a3a" stroke-width="0.5"/>
<path d="M747.5 165.4 L752.1 168.8" fill="none" stroke="#3a3a3a" stroke-width="0.5" />
<path d="M747.5 168.8 L752.1 165.4" fill="none" stroke="#3a3a3a" stroke-width="0.5" />
<rect x="881.5" y="134.8" width="3.2" height="11.4" fill="#fff" stroke="#3a3a3a" stroke-width="0.6" />
<polygon points="877.7,131.8 880.4,128.2 885.8,128.2 888.5,131.8 885.8,135.5 880.4,135.5" fill="#fff" stroke="#3a3a3a" stroke-width="0.8" />
<path d="M881.9 129.7 L881.9 133.9" fill="none" stroke="#222" stroke-width="0.9" />
<path d="M884.3 129.7 L884.3 133.9" fill="none" stroke="#222" stroke-width="0.9" />
<path d="M881.9 131.8 L884.3 131.8" fill="none" stroke="#3a3a3a" stroke-width="0.5" />
<polygon points="684.6,170.2 693.8,170.2 689.2,176.4" fill="#fff" stroke="#3a3a3a" stroke-width="0.7" />
<polygon points="684.6,182.6 693.8,182.6 689.2,176.4" fill="#fff" stroke="#3a3a3a" stroke-width="0.7" />
<path d="M689.2 176.4 L684.1 176.4" fill="none" stroke="#3a3a3a" stroke-width="0.7" />
<rect x="679.7" y="173.8" width="5.0" height="5.2" fill="#fff" stroke="#3a3a3a" stroke-width="0.7" />
<path d="M572.5 99.5 L572.5 59.5 L760.5 59.5 L760.5 67.5" fill="none" stroke="#444" stroke-width="0.7" stroke-dasharray="2.1 1.6"/>
<path d="M748.5 59.5 L748.5 67.5" fill="none" stroke="#444" stroke-width="0.7" stroke-dasharray="2.1 1.6"/>
<path d="M572.5 99.5 L572.5 108.5 L556.5 133.5 L556.5 140.5" fill="none" stroke="#444" stroke-width="0.7" stroke-dasharray="2.1 1.6"/>
<path d="M572.5 108.5 L598.5 180.5 L566.5 180.5 L566.5 172.5" fill="none" stroke="#444" stroke-width="0.7" stroke-dasharray="2.1 1.6"/>
<path d="M681.5 179.5 L681.5 186.5 L737.5 186.5 L737.5 171.5" fill="none" stroke="#444" stroke-width="0.7" stroke-dasharray="2.1 1.6"/>
<path d="M749.5 163.5 L749.5 121.5 L884.5 121.5 L884.5 128.5" fill="none" stroke="#444" stroke-width="0.7" stroke-dasharray="1.9 1.6"/>
<rect x="744.9" y="231.9" width="3.2" height="11.8" fill="#fff" stroke="#3a3a3a" stroke-width="0.6" />
<polygon points="741.1,228.9 743.8,225.2 749.2,225.2 751.9,228.9 749.2,232.5 743.8,232.5" fill="#fff" stroke="#3a3a3a" stroke-width="0.8" />
<ellipse cx="746.5" cy="229.2" rx="1.6" ry="1.3" fill="none" stroke="#3a3a3a" stroke-width="0.5"/>
<path d="M746.5 226.4 L746.5 227.9" fill="none" stroke="#3a3a3a" stroke-width="0.5" />
<rect x="757.2" y="231.9" width="3.2" height="11.8" fill="#fff" stroke="#3a3a3a" stroke-width="0.6" />
<polygon points="753.4,228.9 756.1,225.2 761.5,225.2 764.2,228.9 761.5,232.5 756.1,232.5" fill="#fff" stroke="#3a3a3a" stroke-width="0.8" />
<ellipse cx="758.8" cy="228.9" rx="3.6" ry="2.6" fill="none" stroke="#3a3a3a" stroke-width="0.5"/>
<path d="M756.5 227.2 L761.1 230.6" fill="none" stroke="#3a3a3a" stroke-width="0.5" />
<path d="M756.5 230.6 L761.1 227.2" fill="none" stroke="#3a3a3a" stroke-width="0.5" />
<rect x="564.9" y="312.5" width="3.2" height="12.1" fill="#fff" stroke="#3a3a3a" stroke-width="0.6" />
<polygon points="561.1,327.6 563.8,323.9 569.2,323.9 571.9,327.6 569.2,331.2 563.8,331.2" fill="#fff" stroke="#3a3a3a" stroke-width="0.8" />
<ellipse cx="566.5" cy="327.9" rx="1.6" ry="1.3" fill="none" stroke="#3a3a3a" stroke-width="0.5"/>
<path d="M566.5 325.1 L566.5 326.6" fill="none" stroke="#3a3a3a" stroke-width="0.5" />
<rect x="577.2" y="312.5" width="3.2" height="12.1" fill="#fff" stroke="#3a3a3a" stroke-width="0.6" />
<polygon points="573.4,327.6 576.1,323.9 581.5,323.9 584.2,327.6 581.5,331.2 576.1,331.2" fill="#fff" stroke="#3a3a3a" stroke-width="0.8" />
<ellipse cx="578.8" cy="327.6" rx="3.6" ry="2.6" fill="none" stroke="#3a3a3a" stroke-width="0.5"/>
<path d="M576.5 325.9 L581.1 329.3" fill="none" stroke="#3a3a3a" stroke-width="0.5" />
<path d="M576.5 329.3 L581.1 325.9" fill="none" stroke="#3a3a3a" stroke-width="0.5" />
<rect x="733.7" y="312.5" width="3.2" height="11.1" fill="#fff" stroke="#3a3a3a" stroke-width="0.6" />
<polygon points="729.9,326.6 732.6,323.0 738.0,323.0 740.7,326.6 738.0,330.3 732.6,330.3" fill="#fff" stroke="#3a3a3a" stroke-width="0.8" />
<ellipse cx="735.3" cy="326.9" rx="1.6" ry="1.3" fill="none" stroke="#3a3a3a" stroke-width="0.5"/>
<path d="M735.3 324.1 L735.3 325.6" fill="none" stroke="#3a3a3a" stroke-width="0.5" />
<rect x="746.0" y="312.5" width="3.2" height="11.1" fill="#fff" stroke="#3a3a3a" stroke-width="0.6" />
<polygon points="742.2,326.6 744.9,323.0 750.3,323.0 753.0,326.6 750.3,330.3 744.9,330.3" fill="#fff" stroke="#3a3a3a" stroke-width="0.8" />
<ellipse cx="747.6" cy="326.6" rx="3.6" ry="2.6" fill="none" stroke="#3a3a3a" stroke-width="0.5"/>
<path d="M745.3 324.9 L749.9 328.3" fill="none" stroke="#3a3a3a" stroke-width="0.5" />
<path d="M745.3 328.3 L749.9 324.9" fill="none" stroke="#3a3a3a" stroke-width="0.5" />
<rect x="878.5" y="293.7" width="3.2" height="11.3" fill="#fff" stroke="#3a3a3a" stroke-width="0.6" />
<polygon points="874.7,290.7 877.4,287.1 882.8,287.1 885.5,290.7 882.8,294.3 877.4,294.3" fill="#fff" stroke="#3a3a3a" stroke-width="0.8" />
<path d="M878.9 288.6 L878.9 292.8" fill="none" stroke="#222" stroke-width="0.9" />
<path d="M881.3 288.6 L881.3 292.8" fill="none" stroke="#222" stroke-width="0.9" />
<path d="M878.9 290.7 L881.3 290.7" fill="none" stroke="#3a3a3a" stroke-width="0.5" />
<polygon points="683.3,329.4 692.5,329.4 687.9,335.6" fill="#fff" stroke="#3a3a3a" stroke-width="0.7" />
<polygon points="683.3,341.8 692.5,341.8 687.9,335.6" fill="#fff" stroke="#3a3a3a" stroke-width="0.7" />
<path d="M687.9 335.6 L682.8 335.6" fill="none" stroke="#3a3a3a" stroke-width="0.7" />
<rect x="678.4" y="333.0" width="5.0" height="5.2" fill="#fff" stroke="#3a3a3a" stroke-width="0.7" />
<path d="M572.5 257.5 L572.5 216.5 L758.5 216.5 L758.5 224.5" fill="none" stroke="#444" stroke-width="0.7" stroke-dasharray="2.1 1.6"/>
<path d="M746.5 216.5 L746.5 224.5" fill="none" stroke="#444" stroke-width="0.7" stroke-dasharray="2.1 1.6"/>
<path d="M572.5 257.5 L572.5 266.5 L555.5 292.5 L555.5 298.5" fill="none" stroke="#444" stroke-width="0.7" stroke-dasharray="2.1 1.6"/>
<path d="M572.5 266.5 L597.5 340.5 L566.5 340.5 L566.5 331.5" fill="none" stroke="#444" stroke-width="0.7" stroke-dasharray="2.1 1.6"/>
<path d="M680.5 339.5 L680.5 346.5 L735.5 346.5 L735.5 330.5" fill="none" stroke="#444" stroke-width="0.7" stroke-dasharray="2.1 1.6"/>
<path d="M747.5 312.5 L747.5 279.5 L881.5 279.5 L881.5 287.5" fill="none" stroke="#444" stroke-width="0.7" stroke-dasharray="1.9 1.6"/>
<path d="M150.0 54.3 L219.4 54.3 L219.4 45.5 L297.0 45.5" fill="none" stroke="#000" stroke-width="2.8" stroke-linejoin="round"/>
<ellipse cx="297.0" cy="44.8" rx="9.6" ry="7.3" fill="#4b7eb9" stroke="#000" stroke-width="3.0"/>
<path d="M150.0 153.6 L282.0 153.6 L282.0 89.5 L421.3 89.5" fill="none" stroke="#000" stroke-width="2.8" stroke-linejoin="round"/>
<ellipse cx="421.3" cy="89.6" rx="10.1" ry="7.4" fill="#4b7eb9" stroke="#000" stroke-width="3.0"/>
<path d="M150.0 263.0 L177.0 263.0 L177.0 316.4 L212.8 316.4" fill="none" stroke="#000" stroke-width="2.8" stroke-linejoin="round"/>
<ellipse cx="212.8" cy="316.2" rx="9.7" ry="7.6" fill="#4b7eb9" stroke="#000" stroke-width="3.0"/>
<path d="M150.0 370.3 L300.0 370.3" fill="none" stroke="#000" stroke-width="2.8" stroke-linejoin="round"/>
<ellipse cx="300.0" cy="373.0" rx="9.7" ry="7.4" fill="#4b7eb9" stroke="#000" stroke-width="3.0"/>
<path d="M1012.0 26.3 L483.2 26.3 L483.2 113.0" fill="none" stroke="#000" stroke-width="2.8" stroke-linejoin="round"/>
<ellipse cx="483.1" cy="113.0" rx="9.8" ry="7.3" fill="#4b7eb9" stroke="#000" stroke-width="3.0"/>
<path d="M1012.0 123.3 L741.9 123.3 L741.9 153.3" fill="none" stroke="#000" stroke-width="2.8" stroke-linejoin="round"/>
<ellipse cx="741.7" cy="153.3" rx="10.2" ry="7.3" fill="#4b7eb9" stroke="#000" stroke-width="3.0"/>
<path d="M1014.0 227.5 L873.3 227.5 L873.3 308.7" fill="none" stroke="#000" stroke-width="2.8" stroke-linejoin="round"/>
<ellipse cx="872.9" cy="308.7" rx="9.8" ry="7.3" fill="#4b7eb9" stroke="#000" stroke-width="3.0"/>
<rect x="10.0" y="23.5" width="141.0" height="61.4" fill="#1d5287" stroke="#3f7fc4" stroke-width="1"/>
<text x="80.5" y="51" text-anchor="middle" font-family='"Liberation Sans", "Noto Sans CJK SC", sans-serif' font-weight="700" font-size="21.2" fill="#fff">冷却塔变频</text>
<text x="80.5" y="76" text-anchor="middle" font-family='"Liberation Sans", "Noto Sans CJK SC", sans-serif' font-weight="700" font-size="21.2" fill="#fff">优化</text>
<rect x="10.0" y="123.5" width="141.0" height="59.6" fill="#1d5287" stroke="#3f7fc4" stroke-width="1"/>
<text x="80.5" y="150" text-anchor="middle" font-family='"Liberation Sans", "Noto Sans CJK SC", sans-serif' font-weight="700" font-size="21.2" fill="#fff">冷却水出水</text>
<text x="80.5" y="176" text-anchor="middle" font-family='"Liberation Sans", "Noto Sans CJK SC", sans-serif' font-weight="700" font-size="21.2" fill="#fff">温度优化</text>
<rect x="10.5" y="232.0" width="141.0" height="64.5" fill="#1d5287" stroke="#3f7fc4" stroke-width="1"/>
<text x="80.8" y="259" text-anchor="middle" font-family='"Liberation Sans", "Noto Sans CJK SC", sans-serif' font-weight="700" font-size="21.2" fill="#fff">冷冻水出水</text>
<text x="80.8" y="285" text-anchor="middle" font-family='"Liberation Sans", "Noto Sans CJK SC", sans-serif' font-weight="700" font-size="21.2" fill="#fff">温度优化</text>
<rect x="10.0" y="341.5" width="141.5" height="57.2" fill="#1d5287" stroke="#3f7fc4" stroke-width="1"/>
<text x="80.8" y="368" text-anchor="middle" font-family='"Liberation Sans", "Noto Sans CJK SC", sans-serif' font-weight="700" font-size="21.2" fill="#fff">冷冻水泵频率</text>
<text x="80.8" y="394" text-anchor="middle" font-family='"Liberation Sans", "Noto Sans CJK SC", sans-serif' font-weight="700" font-size="21.2" fill="#fff">优化</text>
<rect x="1010.5" y="2.5" width="148.0" height="57.0" fill="#1d5287" stroke="#3f7fc4" stroke-width="1"/>
<text x="1077.3" y="29" text-anchor="middle" font-family='"Liberation Sans", "Noto Sans CJK SC", sans-serif' font-weight="700" font-size="21.2" fill="#fff">冷冻水压设定</text>
<text x="1077.5" y="55" text-anchor="middle" font-family='"Liberation Sans", "Noto Sans CJK SC", sans-serif' font-weight="700" font-size="21.2" fill="#fff">点优化</text>
<rect x="1011.0" y="94.9" width="148.3" height="58.6" fill="#1d5287" stroke="#3f7fc4" stroke-width="1"/>
<text x="1085.2" y="122" text-anchor="middle" font-family='"Liberation Sans", "Noto Sans CJK SC", sans-serif' font-weight="700" font-size="21.2" fill="#fff">送风温度设定</text>
<text x="1085.2" y="148" text-anchor="middle" font-family='"Liberation Sans", "Noto Sans CJK SC", sans-serif' font-weight="700" font-size="21.2" fill="#fff">点优化</text>
<rect x="1013.8" y="194.9" width="147.7" height="56.0" fill="#1d5287" stroke="#3f7fc4" stroke-width="1"/>
<text x="1087.7" y="221" text-anchor="middle" font-family='"Liberation Sans", "Noto Sans CJK SC", sans-serif' font-weight="700" font-size="21.2" fill="#fff">送风压力设</text>
<text x="1093.1" y="247" text-anchor="middle" font-family='"Liberation Sans", "Noto Sans CJK SC", sans-serif' font-weight="700" font-size="21.2" fill="#fff">定点优化</text>
<text transform="translate(430.40 460.60) scale(1.053 1.000)" font-family='"Liberation Serif", serif' font-size="38" font-style="italic" fill="#000">P</text>
<text transform="translate(447.14 469.90) scale(1.001 1.000)" font-family='"Liberation Serif", serif' font-size="21" font-style="italic" fill="#000">sys</text>
<text transform="translate(475.34 469.90) scale(0.850 1.000)" font-family='"Liberation Serif", serif' font-size="21" font-style="italic" fill="#000">,</text>
<text transform="translate(480.46 469.90) scale(0.994 1.000)" font-family='"Liberation Serif", serif' font-size="21" font-style="italic" fill="#000">tot</text>
<text transform="translate(515.36 462.34) scale(1.189 0.956)" font-family='"Liberation Serif", serif' font-size="36.0" fill="#000">=</text>
<text transform="translate(547.00 460.60) scale(1.053 1.000)" font-family='"Liberation Serif", serif' font-size="38" font-style="italic" fill="#000">P</text>
<text transform="translate(563.20 469.90) scale(0.950 1.000)" font-family='"Liberation Serif", serif' font-size="21" font-style="italic" fill="#000">ch</text>
<text transform="translate(584.94 469.90) scale(0.850 1.000)" font-family='"Liberation Serif", serif' font-size="21" font-style="italic" fill="#000">,</text>
<text transform="translate(590.06 469.90) scale(0.994 1.000)" font-family='"Liberation Serif", serif' font-size="21" font-style="italic" fill="#000">tot</text>
<text transform="translate(622.95 464.56) scale(1.141 1.141)" font-family='"Liberation Serif", serif' font-size="36.0" fill="#000">+</text>
<text transform="translate(651.80 460.60) scale(1.057 1.000)" font-family='"Liberation Serif", serif' font-size="38" font-style="italic" fill="#000">P</text>
<text transform="translate(668.84 469.90) scale(0.896 1.000)" font-family='"Liberation Serif", serif' font-size="21" font-style="italic" fill="#000">ct</text>
<text transform="translate(686.39 469.90) scale(0.850 1.000)" font-family='"Liberation Serif", serif' font-size="21" font-style="italic" fill="#000">,</text>
<text transform="translate(691.14 469.90) scale(1.017 1.000)" font-family='"Liberation Serif", serif' font-size="21" font-style="italic" fill="#000">tot</text>
<text transform="translate(724.25 464.56) scale(1.141 1.141)" font-family='"Liberation Serif", serif' font-size="36.0" fill="#000">+</text>
<text transform="translate(753.40 460.60) scale(1.057 1.000)" font-family='"Liberation Serif", serif' font-size="38" font-style="italic" fill="#000">P</text>
<text transform="translate(772.23 469.90) scale(1.016 1.000)" font-family='"Liberation Serif", serif' font-size="21" font-style="italic" fill="#000">pump</text>
<text transform="translate(821.64 469.90) scale(0.850 1.000)" font-family='"Liberation Serif", serif' font-size="21" font-style="italic" fill="#000">,</text>
<text transform="translate(826.74 469.90) scale(1.017 1.000)" font-family='"Liberation Serif", serif' font-size="21" font-style="italic" fill="#000">tot</text>
<text transform="translate(859.94 464.63) scale(1.147 1.147)" font-family='"Liberation Serif", serif' font-size="36.0" fill="#000">+</text>
<text transform="translate(889.10 460.60) scale(1.044 1.000)" font-family='"Liberation Serif", serif' font-size="38" font-style="italic" fill="#000">P</text>
<text transform="translate(906.66 469.90) scale(1.131 1.000)" font-family='"Liberation Serif", serif' font-size="21" font-style="italic" fill="#000">fan</text>
<text transform="translate(938.64 469.90) scale(0.850 1.000)" font-family='"Liberation Serif", serif' font-size="21" font-style="italic" fill="#000">,</text>
<text transform="translate(943.74 469.90) scale(1.017 1.000)" font-family='"Liberation Serif", serif' font-size="21" font-style="italic" fill="#000">tot</text>
<text transform="translate(429.86 520.80) scale(0.971 1.000)" font-family='"Liberation Serif", serif' font-size="30" fill="#000">(</text>
<text transform="translate(439.66 520.80) scale(0.945 1.000)" font-family='"Liberation Serif", serif' font-size="30" font-style="italic" fill="#000">T</text>
<text transform="translate(458.79 507.90) scale(0.944 1.000)" font-family='"Liberation Serif", serif' font-size="15" fill="#000">*</text>
<text transform="translate(467.84 527.70) scale(0.930 1.000)" font-family='"Liberation Serif", serif' font-size="16.5" font-style="italic" fill="#000">cw</text>
<text transform="translate(486.92 520.80) scale(0.915 1.000)" font-family='"Liberation Serif", serif' font-size="30" font-style="italic" fill="#000">T</text>
<text transform="translate(505.47 507.90) scale(0.977 1.000)" font-family='"Liberation Serif", serif' font-size="15" fill="#000">*</text>
<text transform="translate(514.54 527.70) scale(0.850 1.000)" font-family='"Liberation Serif", serif' font-size="16.5" fill="#000">c</text>
<text transform="translate(521.83 527.70) scale(0.986 1.000)" font-family='"Liberation Serif", serif' font-size="16.5" font-style="italic" fill="#000">hw</text>
<text transform="translate(542.35 527.70) scale(1.017 1.000)" font-family='"Liberation Serif", serif' font-size="16.5" font-style="italic" fill="#000">,</text>
<text transform="translate(549.73 527.70) scale(0.983 1.000)" font-family='"Liberation Serif", serif' font-size="16.5" font-style="italic" fill="#000">prm</text>
<text transform="translate(577.76 520.80) scale(0.945 1.000)" font-family='"Liberation Serif", serif' font-size="30" font-style="italic" fill="#000">T</text>
<text transform="translate(597.17 507.90) scale(0.977 1.000)" font-family='"Liberation Serif", serif' font-size="15" fill="#000">*</text>
<text transform="translate(605.59 527.70) scale(0.985 1.000)" font-family='"Liberation Serif", serif' font-size="16.5" fill="#000">chw</text>
<text transform="translate(635.87 527.70) scale(0.850 1.000)" font-family='"Liberation Serif", serif' font-size="16.5" fill="#000">,</text>
<text transform="translate(640.16 527.70) scale(0.971 1.000)" font-family='"Liberation Serif", serif' font-size="16.5" fill="#000">sec</text>
<text transform="translate(662.32 520.80) scale(0.964 1.000)" font-family='"Liberation Serif", serif' font-size="30" font-style="italic" fill="#000">T</text>
<text transform="translate(681.57 507.90) scale(0.977 1.000)" font-family='"Liberation Serif", serif' font-size="15" fill="#000">*</text>
<text transform="translate(690.69 527.70) scale(1.010 1.000)" font-family='"Liberation Serif", serif' font-size="16.5" font-style="italic" fill="#000">sa</text>
<text transform="translate(708.85 520.80) scale(0.971 1.000)" font-family='"Liberation Serif", serif' font-size="30" fill="#000">)</text>
<text transform="translate(725.42 523.01) scale(0.878 0.844)" font-family='"Liberation Serif", serif' font-size="36.0" fill="#000">=</text>
<text transform="translate(777.09 520.80) scale(0.963 1.000)" font-family='"Liberation Serif", serif' font-size="30" fill="#000">arg</text>
<text transform="translate(818.62 520.80) scale(0.969 1.000)" font-family='"Liberation Serif", serif' font-size="30" fill="#000">min</text>
<text transform="translate(899.45 520.80) scale(0.972 1.000)" font-family='"Liberation Serif", serif' font-size="30" font-style="italic" fill="#000">P</text>
<text transform="translate(912.80 527.70) scale(0.950 1.000)" font-family='"Liberation Serif", serif' font-size="16.5" font-style="italic" fill="#000">sys</text>
<text transform="translate(935.04 527.70) scale(0.860 1.000)" font-family='"Liberation Serif", serif' font-size="16.5" font-style="italic" fill="#000">,</text>
<text transform="translate(939.37 527.70) scale(0.983 1.000)" font-family='"Liberation Serif", serif' font-size="16.5" font-style="italic" fill="#000">tot</text>
<text transform="translate(748.72 542.60) scale(1.034 1.000)" font-family='"Liberation Serif", serif' font-size="16" font-style="italic" fill="#000">T</text>
<text transform="translate(756.97 547.30) scale(1.006 1.000)" font-family='"Liberation Serif", serif' font-size="11" font-style="italic" fill="#000">cw</text>
<text transform="translate(770.32 542.60) scale(1.034 1.000)" font-family='"Liberation Serif", serif' font-size="16" font-style="italic" fill="#000">T</text>
<text transform="translate(778.56 547.30) scale(1.027 1.000)" font-family='"Liberation Serif", serif' font-size="11" font-style="italic" fill="#000">chw</text>
<text transform="translate(799.36 547.30) scale(0.938 1.000)" font-family='"Liberation Serif", serif' font-size="11" font-style="italic" fill="#000">,</text>
<text transform="translate(803.89 547.30) scale(1.084 1.000)" font-family='"Liberation Serif", serif' font-size="11" font-style="italic" fill="#000">prm</text>
<text transform="translate(824.24 542.60) scale(1.023 1.000)" font-family='"Liberation Serif", serif' font-size="16" font-style="italic" fill="#000">T</text>
<text transform="translate(832.96 547.30) scale(1.045 1.000)" font-family='"Liberation Serif", serif' font-size="11" font-style="italic" fill="#000">chw</text>
<text transform="translate(853.16 547.30) scale(0.938 1.000)" font-family='"Liberation Serif", serif' font-size="11" font-style="italic" fill="#000">,</text>
<text transform="translate(856.55 547.30) scale(0.920 1.000)" font-family='"Liberation Sans", sans-serif' font-size="10" fill="#000">sec</text>
<text transform="translate(871.91 542.60) scale(1.045 1.000)" font-family='"Liberation Serif", serif' font-size="16" font-style="italic" fill="#000">T</text>
<text transform="translate(880.65 547.30) scale(1.115 1.000)" font-family='"Liberation Serif", serif' font-size="11" font-style="italic" fill="#000">sa</text>
<text x="95" y="528" font-family='"Liberation Sans", "Noto Sans CJK SC", sans-serif' font-weight="900" font-size="32" fill="#000">优化目标：</text>
</svg>
</body>
</html>
